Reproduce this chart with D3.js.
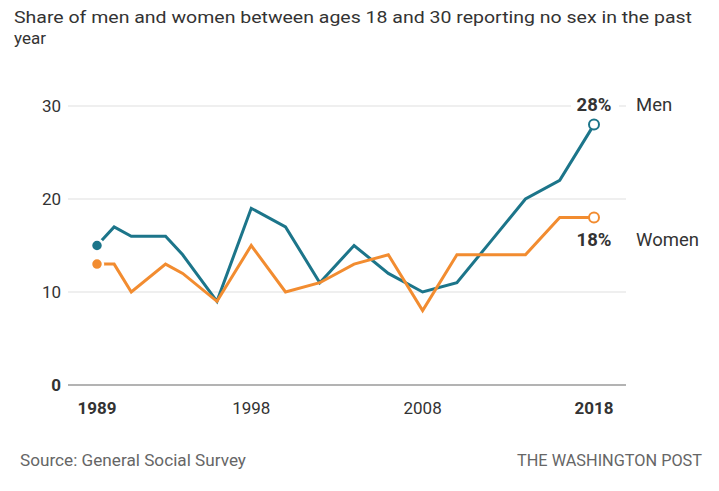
<!DOCTYPE html>
<html lang="en">
<head>
    <meta charset="utf-8">
    <script src="https://d3js.org/d3.v7.min.js"></script>
    <style>
        body { margin: 0; background: #fff; }
        text { font-family: "Liberation Sans Narrow", "Roboto", "Liberation Sans", sans-serif; }
    </style>
</head>
<body>
    <svg id="chart"></svg>

    <script>
        // survey years and shares (%)
        const years = [1989, 1990, 1991, 1993, 1994, 1996, 1998, 2000, 2002, 2004, 2006, 2008, 2010, 2012, 2014, 2016, 2018];
        const men   = [15, 17, 16, 16, 14, 9, 19, 17, 11, 15, 12, 10, 11, 15.5, 20, 22, 28];
        const women = [13, 13, 10, 13, 12, 9, 15, 10, 11, 13, 14, 8, 14, 14, 14, 18, 18];
        const yTicks = [0, 10, 20, 30];
        const xTicks = [1989, 1998, 2008, 2018];

        const W = 719, H = 491;
        const menColor = "#1c758a", womenColor = "#f28c30";

        const svg = d3.select("#chart").attr("width", W).attr("height", H);

        const x = d3.scaleLinear().domain([1989, 2018]).range([97, 594]);
        const y = d3.scaleLinear().domain([0, 30]).range([385, 106]);

        // title
        const title = svg.append("g").attr("fill", "#333").style("font-size", "17px");
        title.append("text").attr("x", 14).attr("y", 23)
            .attr("textLength", 678).attr("lengthAdjust", "spacingAndGlyphs")
            .text("Share of men and women between ages 18 and 30 reporting no sex in the past");
        title.append("text").attr("x", 14).attr("y", 44).text("year");

        // grid
        svg.append("g").selectAll("line")
            .data(yTicks)
            .join("line")
            .attr("x1", 68).attr("x2", 626)
            .attr("y1", d => y(d)).attr("y2", d => y(d))
            .attr("stroke", d => d === 0 ? "#9a9a9a" : "#e0e0e0")
            .attr("stroke-width", d => d === 0 ? 1.5 : 1.2);

        svg.append("g").selectAll("text")
            .data(yTicks)
            .join("text")
            .attr("x", 61).attr("y", d => y(d) + 6)
            .attr("text-anchor", "end")
            .attr("fill", "#333")
            .style("font-size", "17px")
            .style("font-weight", d => d === 0 ? "bold" : "normal")
            .text(d => d);

        svg.append("g").selectAll("text")
            .data(xTicks)
            .join("text")
            .attr("x", d => x(d)).attr("y", 414)
            .attr("text-anchor", "middle")
            .attr("fill", "#333")
            .style("font-size", "17px")
            .style("font-weight", d => (d === 1989 || d === 2018) ? "bold" : "normal")
            .text(d => d);

        // lines
        const line = d3.line().x(d => x(d[0])).y(d => y(d[1]));
        const series = [
            { name: "Men", values: men, color: menColor },
            { name: "Women", values: women, color: womenColor }
        ];

        series.forEach(s => {
            const pts = years.map((yr, i) => [yr, s.values[i]]);
            svg.append("path")
                .datum(pts)
                .attr("fill", "none")
                .attr("stroke", s.color)
                .attr("stroke-width", 3)
                .attr("stroke-linejoin", "miter")
                .attr("d", line);

            const first = pts[0], last = pts[pts.length - 1];
            svg.append("circle")
                .attr("cx", x(first[0])).attr("cy", y(first[1]))
                .attr("r", 6)
                .attr("fill", s.color)
                .attr("stroke", "#fff").attr("stroke-width", 2.5);
            svg.append("circle")
                .attr("cx", x(last[0])).attr("cy", y(last[1]))
                .attr("r", 5)
                .attr("fill", "#fff")
                .attr("stroke", s.color).attr("stroke-width", 2);
        });

        // end labels
        const menLast = men[men.length - 1], womenLast = women[women.length - 1];
        const lab = svg.append("g").style("font-size", "18.5px");
        lab.append("rect").attr("x", 571).attr("y", y(30) - 9).attr("width", 48).attr("height", 18).attr("fill", "#fff");
        lab.append("text").attr("x", x(2018)).attr("y", y(menLast) - 14)
            .attr("text-anchor", "middle").attr("fill", "#333").style("font-weight", "bold")
            .text(menLast + "%");
        lab.append("text").attr("x", x(2018)).attr("y", y(womenLast) + 28)
            .attr("text-anchor", "middle").attr("fill", "#333").style("font-weight", "bold")
            .text(womenLast + "%");
        lab.append("text").attr("x", 636).attr("y", y(menLast) - 14)
            .attr("fill", "#333").text("Men");
        lab.append("text").attr("x", 636).attr("y", y(womenLast) + 28)
            .attr("fill", "#333").text("Women");

        // footer
        const foot = svg.append("g").attr("fill", "#666").style("font-size", "16.5px");
        foot.append("text").attr("x", 20).attr("y", 466)
            .attr("textLength", 226).attr("lengthAdjust", "spacingAndGlyphs")
            .text("Source: General Social Survey");
        foot.append("text").attr("x", 517).attr("y", 466)
            .attr("textLength", 185).attr("lengthAdjust", "spacingAndGlyphs")
            .text("THE WASHINGTON POST");
    </script>
</body>
</html>
